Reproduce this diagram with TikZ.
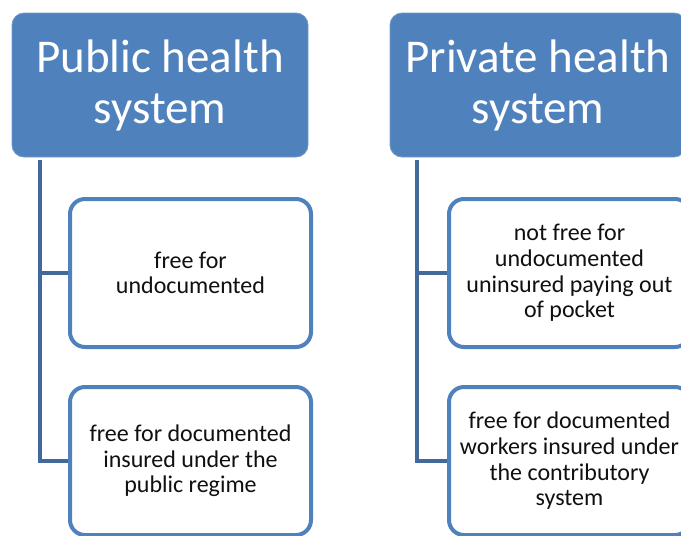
\documentclass[tikz,border=0pt]{standalone}
\usepackage{fontspec}
\setmainfont{Carlito}
\definecolor{hdr}{HTML}{4F81BD}
\definecolor{conncol}{HTML}{41699C}
\definecolor{txt}{HTML}{101010}
\begin{document}
\begin{tikzpicture}[x=1pt,y=-1pt,
  header/.style={fill=hdr, draw=hdr!80!white, line width=0.8pt, rounded corners=12pt,
    minimum width=296pt, minimum height=144pt, inner sep=0pt, text=white,
    align=center, font=\fontsize{47}{51}\selectfont},
  child/.style={fill=white, draw=hdr, line width=4pt, rounded corners=15pt,
    minimum width=241pt, minimum height=148pt, inner sep=0pt, text=txt,
    align=center, font=\fontsize{24}{25.7}\selectfont},
  conn/.style={draw=conncol, line width=4pt}]
\useasboundingbox (0,0) rectangle (681,536);
\clip (0,0) rectangle (681,536);
\node[header] (pub) at (160,85) {Public health\\system};
\node[header] (pri) at (538,85) {Private health\\system};
\node[child] (c1) at (190.5,273) {free for\\undocumented};
\node[child] (c2) at (190.5,461) {free for documented\\insured under the\\public regime};
\node[child] (d1) at (569.5,273) {not free for\\undocumented\\uninsured paying out\\of pocket};
\node[child] (d2) at (569.5,461) {free for documented\\workers insured under\\the contributory\\system};
\coordinate (p0) at ([xshift=28pt,yshift=-3pt]pub.south west);
\coordinate (q0) at ([xshift=27pt,yshift=-3pt]pri.south west);
\draw[conn] (p0) |- (c1.west);
\draw[conn] (p0) |- (c2.west);
\draw[conn] (q0) |- (d1.west);
\draw[conn] (q0) |- (d2.west);
\end{tikzpicture}
\end{document}
